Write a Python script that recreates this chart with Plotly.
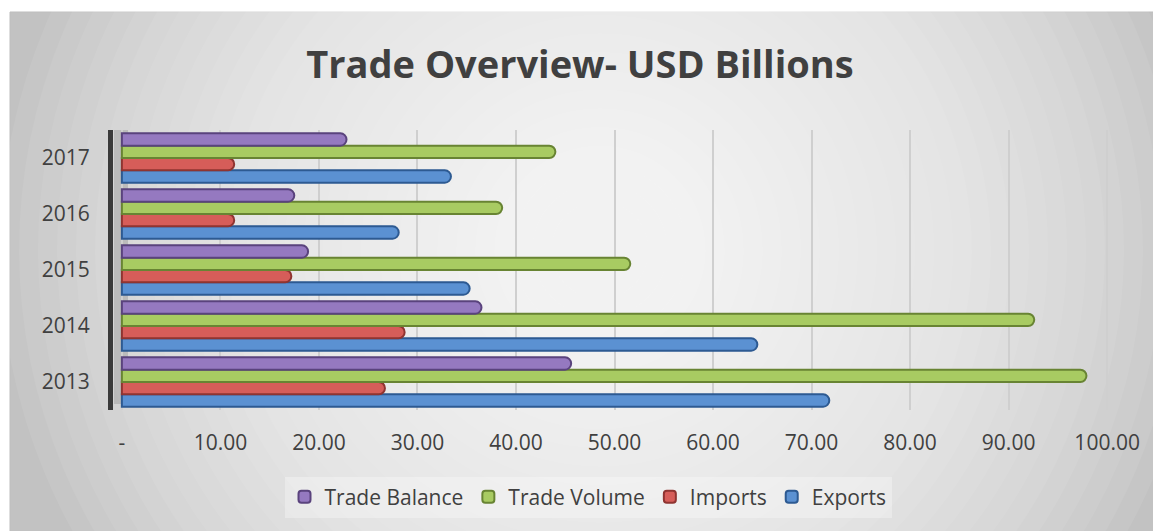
import plotly.graph_objects as go

# data (USD billions)
years = ["2013", "2014", "2015", "2016", "2017"]
exports = [71.8, 64.5, 35.3, 28.1, 33.4]
imports = [26.7, 28.7, 17.2, 11.4, 11.4]
trade_volume = [97.9, 92.6, 51.6, 38.6, 44.0]
trade_balance = [45.6, 36.5, 18.9, 17.5, 22.8]

tick_vals = [0, 10, 20, 30, 40, 50, 60, 70, 80, 90, 100]
tick_text = ["-", "10.00", "20.00", "30.00", "40.00", "50.00",
             "60.00", "70.00", "80.00", "90.00", "100.00"]

# page body has an 8px margin, so the figure is a bit smaller than the window
OFF = 8
W, H = 1161 - OFF, 531 - OFF
ML, MR, MT, MB = 105, 44, 122, 121
PW, PH = W - ML - MR, H - MT - MB

TXT = "#404040"
FONT = "Open Sans, Noto Sans, sans-serif"


def px_x(p):
    # window pixel -> paper x
    return (p - OFF - ML) / PW


def px_y(p):
    # window pixel -> paper y
    return 1 - (p - OFF - MT) / PH


series = [
    ("Exports", exports, "#5b91d2", "#2d5a92"),
    ("Imports", imports, "#d65d59", "#8f3431"),
    ("Trade Volume", trade_volume, "#a8cb62", "#688433"),
    ("Trade Balance", trade_balance, "#9579c0", "#5a437d"),
]

fig = go.Figure()
for name, vals, fill, edge in series:
    fig.add_trace(go.Bar(
        y=years, x=vals, name=name, orientation="h",
        marker=dict(color=fill, line=dict(color=edge, width=2), cornerradius="50%"),
    ))

# grey chart background with a soft light centre
shapes = [dict(type="rect", xref="paper", yref="paper", layer="below",
               x0=px_x(10), x1=px_x(1170), y0=px_y(12), y1=px_y(540),
               fillcolor="#c2c2c2", line=dict(color="#bdbdbd", width=1))]
n = 30
for i in range(n):
    f = 1 - i / n
    rx, ry = 30 + 570 * f, 30 + 560 * f
    shapes.append(dict(type="circle", xref="paper", yref="paper", layer="below",
                       x0=px_x(600 - rx), x1=px_x(600 + rx),
                       y0=px_y(250 + ry), y1=px_y(250 - ry),
                       fillcolor="white", opacity=0.07, line=dict(width=0)))
# side wall strip next to the category axis
shapes.append(dict(type="rect", xref="paper", yref="paper", layer="below",
                   x0=px_x(114), x1=px_x(128), y0=px_y(404), y1=px_y(130),
                   fillcolor="#a8a8a8", opacity=0.6, line=dict(width=0)))

fig.update_layout(
    width=W, height=H,
    margin=dict(l=ML, r=MR, t=MT, b=MB),
    paper_bgcolor="white",
    plot_bgcolor="rgba(0,0,0,0)",
    barmode="group",
    bargap=0.12,
    bargroupgap=0.0,
    shapes=shapes,
    title=dict(text="<b>Trade Overview- USD Billions</b>",
               x=(580 - OFF) / W, xanchor="center",
               y=1 - (65 - OFF) / H, yanchor="middle",
               font=dict(family=FONT, size=38, color=TXT)),
    legend=dict(orientation="h", traceorder="reversed",
                xref="container", yref="container",
                x=(588 - OFF) / W, y=1 - (497 - OFF) / H,
                xanchor="center", yanchor="middle",
                itemwidth=30,
                bgcolor="rgba(255,255,255,0.3)",
                font=dict(family=FONT, size=21, color=TXT)),
    font=dict(family=FONT, size=21, color=TXT),
)
fig.update_xaxes(range=[-0.9, 101], tickvals=tick_vals, ticktext=tick_text,
                 showgrid=True, gridcolor="#cfcfcf", gridwidth=1.5,
                 zeroline=False, ticks="outside", ticklen=14,
                 tickcolor="rgba(0,0,0,0)", tickfont=dict(size=21, color=TXT))
fig.update_yaxes(showline=True, linewidth=5, linecolor="#3a3a3a",
                 ticks="outside", ticklen=14, tickcolor="rgba(0,0,0,0)",
                 tickfont=dict(size=21, color=TXT))

fig.write_html("out.html")
